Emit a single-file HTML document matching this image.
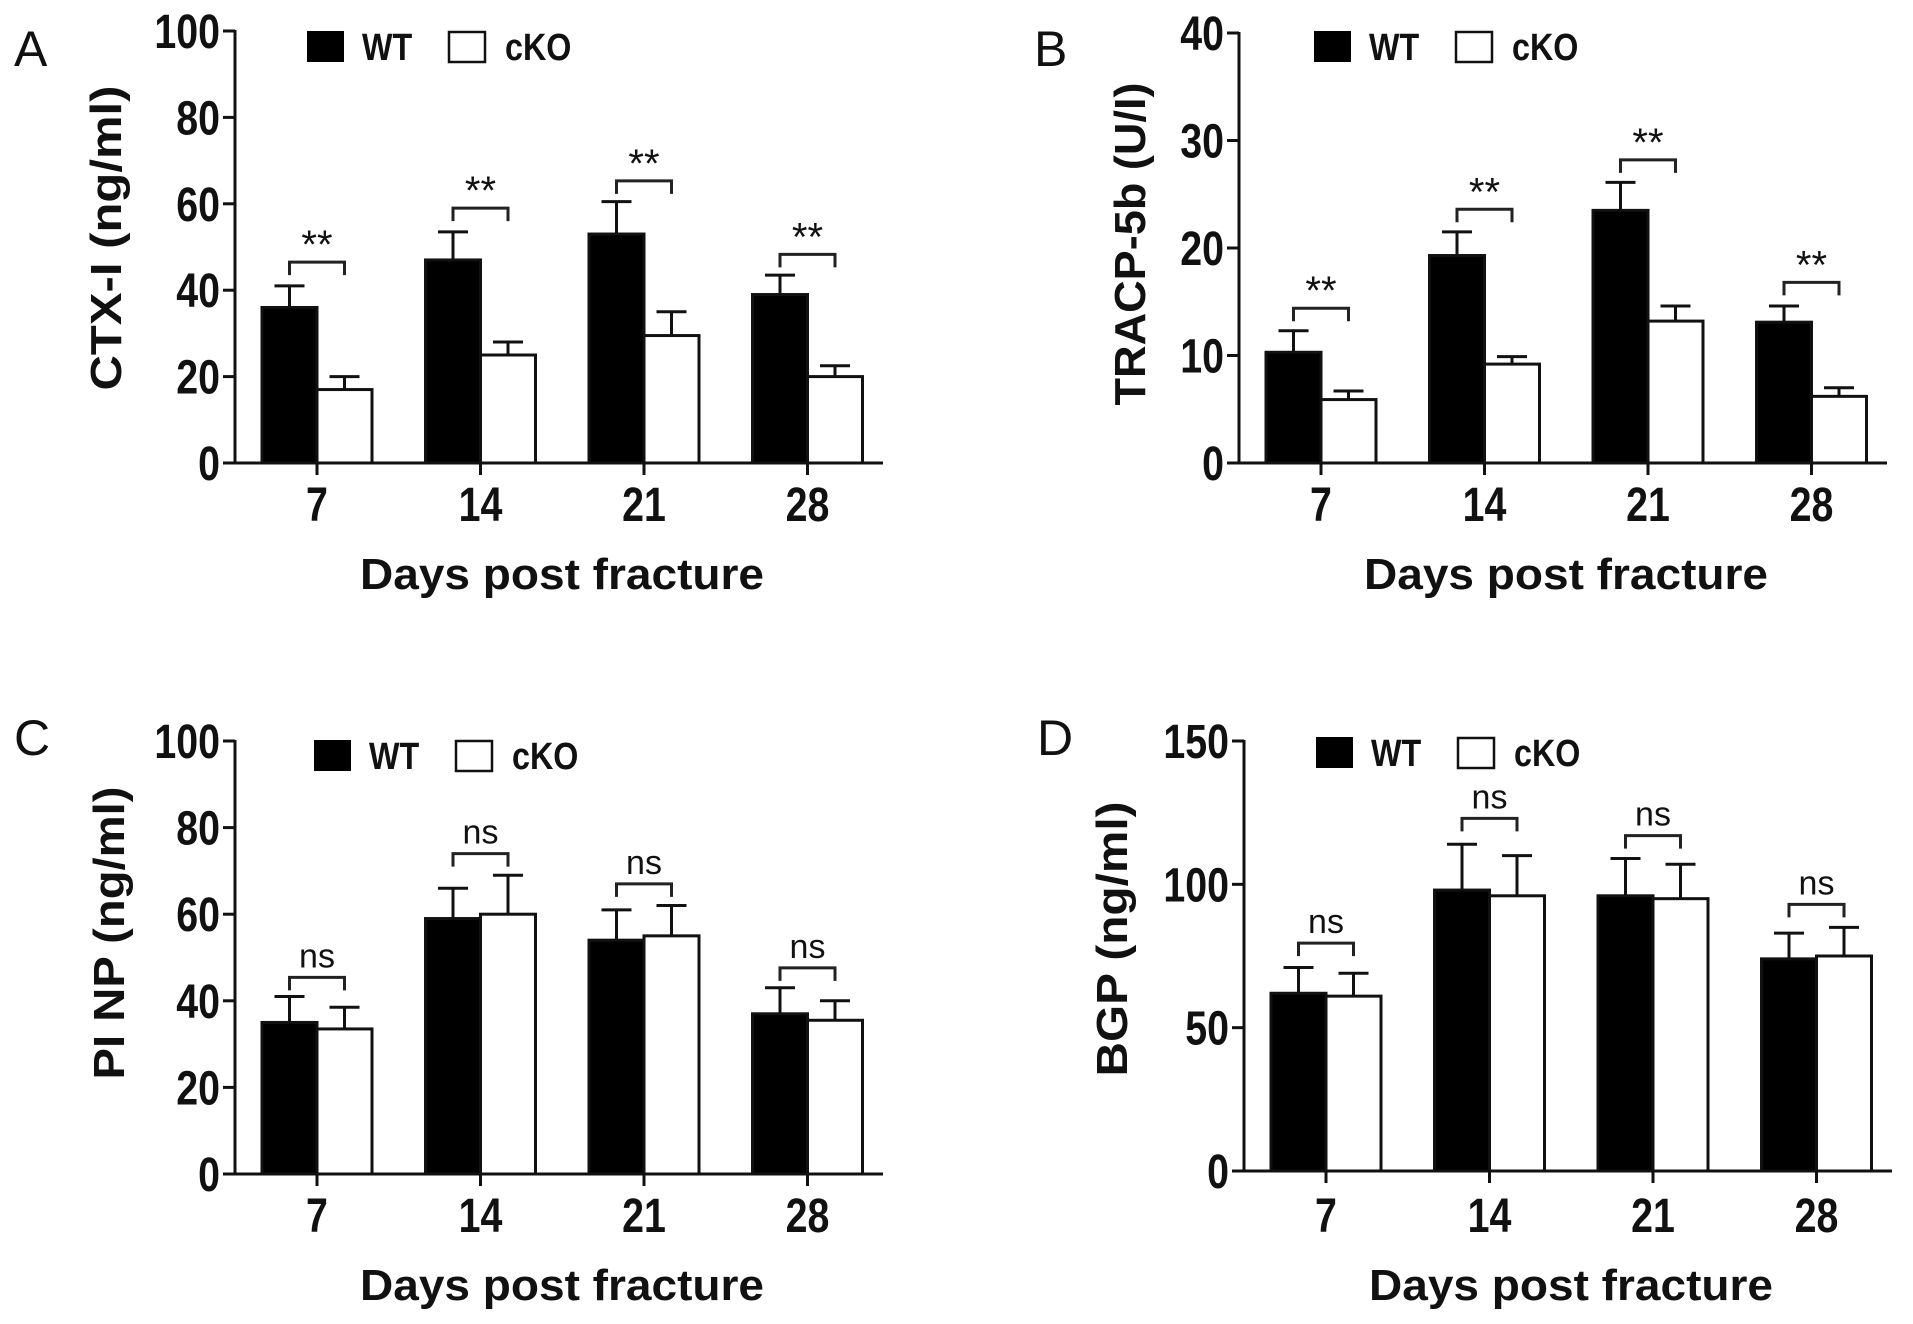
<!DOCTYPE html>
<html><head><meta charset="utf-8">
<style>
html,body{margin:0;padding:0;background:#fff;}
svg{display:block;}
text{font-family:"Liberation Sans",Arial,sans-serif;fill:#111;}
</style></head>
<body>
<svg id="fig" width="1913" height="1324" viewBox="0 0 1913 1324" xmlns="http://www.w3.org/2000/svg"></svg>
<script>
const categories = ["7","14","21","28"];
// Panel A: CTX-I
const aWT = [36, 47, 53, 39];
const aWTerr = [5, 6.5, 7.5, 4.5];
const aKO = [17, 25, 29.5, 20];
const aKOerr = [3, 3, 5.5, 2.5];
const aBracket = [46.5, 59, 65.3, 48.3];
const aSig = ["**","**","**","**"];
const aTicks = [0, 20, 40, 60, 80, 100];
// Panel B: TRACP-5b
const bWT = [10.3, 19.3, 23.5, 13.1];
const bWTerr = [2, 2.2, 2.6, 1.5];
const bKO = [5.9, 9.2, 13.2, 6.2];
const bKOerr = [0.8, 0.7, 1.4, 0.8];
const bBracket = [14.4, 23.6, 28.2, 16.8];
const bSig = ["**","**","**","**"];
const bTicks = [0, 10, 20, 30, 40];
// Panel C: PINP
const cWT = [35, 59, 54, 37];
const cWTerr = [6, 7, 7, 6];
const cKO = [33.5, 60, 55, 35.5];
const cKOerr = [5, 9, 7, 4.5];
const cBracket = [45.4, 74, 67, 47.6];
const cSig = ["ns","ns","ns","ns"];
const cTicks = [0, 20, 40, 60, 80, 100];
// Panel D: BGP
const dWT = [62, 98, 96, 74];
const dWTerr = [9, 16, 13, 9];
const dKO = [61, 96, 95, 75];
const dKOerr = [8, 14, 12, 10];
const dBracket = [79.5, 123, 117, 93];
const dSig = ["ns","ns","ns","ns"];
const dTicks = [0, 50, 100, 150];

const NS = "http://www.w3.org/2000/svg";
const svg = document.getElementById("fig");
function mk(tag, attrs, parent){
  const e = document.createElementNS(NS, tag);
  for (const k in attrs) e.setAttribute(k, attrs[k]);
  (parent||svg).appendChild(e);
  return e;
}

function panel(p){
  const g = mk("g", {});
  
  
  const ax = p.ax, y0 = p.y0, yTop = p.yTop, max = p.ticks[p.ticks.length-1];
  const ys = v => y0 - (v/max)*(y0-yTop);
  const gap = 163.5, bw = 55;
  const tickX = i => ax + 82 + i*gap;

  const lt = mk("text", {x:p.letterX, y:p.letterY, "font-size":50}, g);
  lt.textContent = p.id;
  
  

  const ya = mk("line", {x1:ax, y1:yTop-1, x2:ax, y2:y0+1, stroke:"#111", "stroke-width":3}, g);
  
  
  const xa = mk("line", {x1:ax-12, y1:y0, x2:ax+648, y2:y0, stroke:"#111", "stroke-width":3}, g);
  
  

  p.ticks.forEach(t => {
    const y = ys(t);
    const tl = mk("line", {x1:ax-12, y1:y, x2:ax, y2:y, stroke:"#111", "stroke-width":3}, g);
    
    
    const tx = mk("text", {x:ax-15, y:y+17, "font-size":48, "font-weight":"bold", "text-anchor":"end", transform:`translate(${ax-15},0) scale(0.82,1) translate(${-(ax-15)},0)`}, g);
    tx.textContent = t;
    
    
  });

  categories.forEach((c, i) => {
    const x = tickX(i);
    const tl = mk("line", {x1:x, y1:y0, x2:x, y2:y0+12, stroke:"#111", "stroke-width":3}, g);
    
    
    const tx = mk("text", {x:x, y:p.tickLabelY, "font-size":48, "font-weight":"bold", "text-anchor":"middle", transform:`translate(${x},0) scale(0.82,1) translate(${-x},0)`}, g);
    tx.textContent = c;
    
    

    const wt = p.wt[i], ko = p.ko[i];
    const wtTop = ys(wt), koTop = ys(ko);
    const eW = ys(wt + p.wtErr[i]), eK = ys(ko + p.koErr[i]);
    const ew1 = mk("line", {x1:x-bw/2, y1:wtTop, x2:x-bw/2, y2:eW, stroke:"#111", "stroke-width":3}, g);
    
    
    const ec1 = mk("line", {x1:x-bw/2-15, y1:eW, x2:x-bw/2+15, y2:eW, stroke:"#111", "stroke-width":3}, g);
    
    
    const ew2 = mk("line", {x1:x+bw/2, y1:koTop, x2:x+bw/2, y2:eK, stroke:"#111", "stroke-width":3}, g);
    
    
    const ec2 = mk("line", {x1:x+bw/2-15, y1:eK, x2:x+bw/2+15, y2:eK, stroke:"#111", "stroke-width":3}, g);
    
    
    const b1 = mk("rect", {x:x-bw, y:wtTop, width:bw, height:y0-wtTop, fill:"#000", stroke:"#111", "stroke-width":3}, g);
    
    
    const b2 = mk("rect", {x:x, y:koTop, width:bw, height:y0-koTop, fill:"#fff", stroke:"#111", "stroke-width":3}, g);
    
    

    const by = ys(p.bracket[i]);
    const br = mk("path", {d:`M${x-bw/2},${by+13} V${by} H${x+bw/2} V${by+13}`, fill:"none", stroke:"#222", "stroke-width":3}, g);
    
    
    const st = mk("text", {x:x, y:p.sig[i]==="**" ? by-4 : by-10, "font-size":p.sig[i]==="**" ? 40 : 34, "text-anchor":"middle", fill:"#333"}, g);
    st.textContent = p.sig[i];
    
    
  });

  const xt = mk("text", {x:ax+327, y:p.xTitleY, "font-size":44, "font-weight":"bold", "text-anchor":"middle", textLength:404, lengthAdjust:"spacingAndGlyphs"}, g);
  xt.textContent = "Days post fracture";
  
  
  const yt = mk("text", {x:0, y:0, "font-size":44, "font-weight":"bold", "text-anchor":"middle", textLength:p.yLen, lengthAdjust:"spacingAndGlyphs", transform:`translate(${p.yTitleX},${p.yTitleCY}) rotate(-90)`}, g);
  yt.textContent = p.yTitle;
  
  

  const lx = p.legX, ly = p.legY;
  const l1 = mk("rect", {x:lx, y:ly, width:37, height:31, fill:"#000"}, g);
  
  
  const l1t = mk("text", {x:lx+55, y:ly+29, "font-size":38, "font-weight":"bold", transform:`translate(${lx+55},0) scale(0.85,1) translate(${-(lx+55)},0)`}, g);
  l1t.textContent = "WT";
  
  
  const l2 = mk("rect", {x:lx+142, y:ly+1, width:36, height:30, fill:"#fff", stroke:"#111", "stroke-width":2.5}, g);
  
  
  const l2t = mk("text", {x:lx+198, y:ly+29, "font-size":38, "font-weight":"bold", transform:`translate(${lx+198},0) scale(0.85,1) translate(${-(lx+198)},0)`}, g);
  l2t.textContent = "cKO";
  
  
}

panel({id:"A", ax:235, y0:463, yTop:31, ticks:aTicks, wt:aWT, wtErr:aWTerr, ko:aKO, koErr:aKOerr, bracket:aBracket, sig:aSig,
  letterX:14, letterY:66, tickLabelY:521, xTitleY:589, yTitle:"CTX-I  (ng/ml)", yTitleX:121, yTitleCY:238, yLen:305, legX:307, legY:31});
panel({id:"B", ax:1239, y0:463, yTop:33, ticks:bTicks, wt:bWT, wtErr:bWTerr, ko:bKO, koErr:bKOerr, bracket:bBracket, sig:bSig,
  letterX:1034, letterY:66, tickLabelY:521, xTitleY:589, yTitle:"TRACP-5b (U/I)", yTitleX:1145, yTitleCY:244, yLen:323, legX:1314, legY:31});
panel({id:"C", ax:235, y0:1174, yTop:741, ticks:cTicks, wt:cWT, wtErr:cWTerr, ko:cKO, koErr:cKOerr, bracket:cBracket, sig:cSig,
  letterX:14, letterY:755, tickLabelY:1232, xTitleY:1300, yTitle:"PI NP (ng/ml)", yTitleX:124, yTitleCY:933, yLen:293, legX:314, legY:740});
panel({id:"D", ax:1244, y0:1171, yTop:741, ticks:dTicks, wt:dWT, wtErr:dWTerr, ko:dKO, koErr:dKOerr, bracket:dBracket, sig:dSig,
  letterX:1037, letterY:755, tickLabelY:1232, xTitleY:1300, yTitle:"BGP (ng/ml)", yTitleX:1127, yTitleCY:939, yLen:275, legX:1316, legY:737});
</script>
</body></html>
